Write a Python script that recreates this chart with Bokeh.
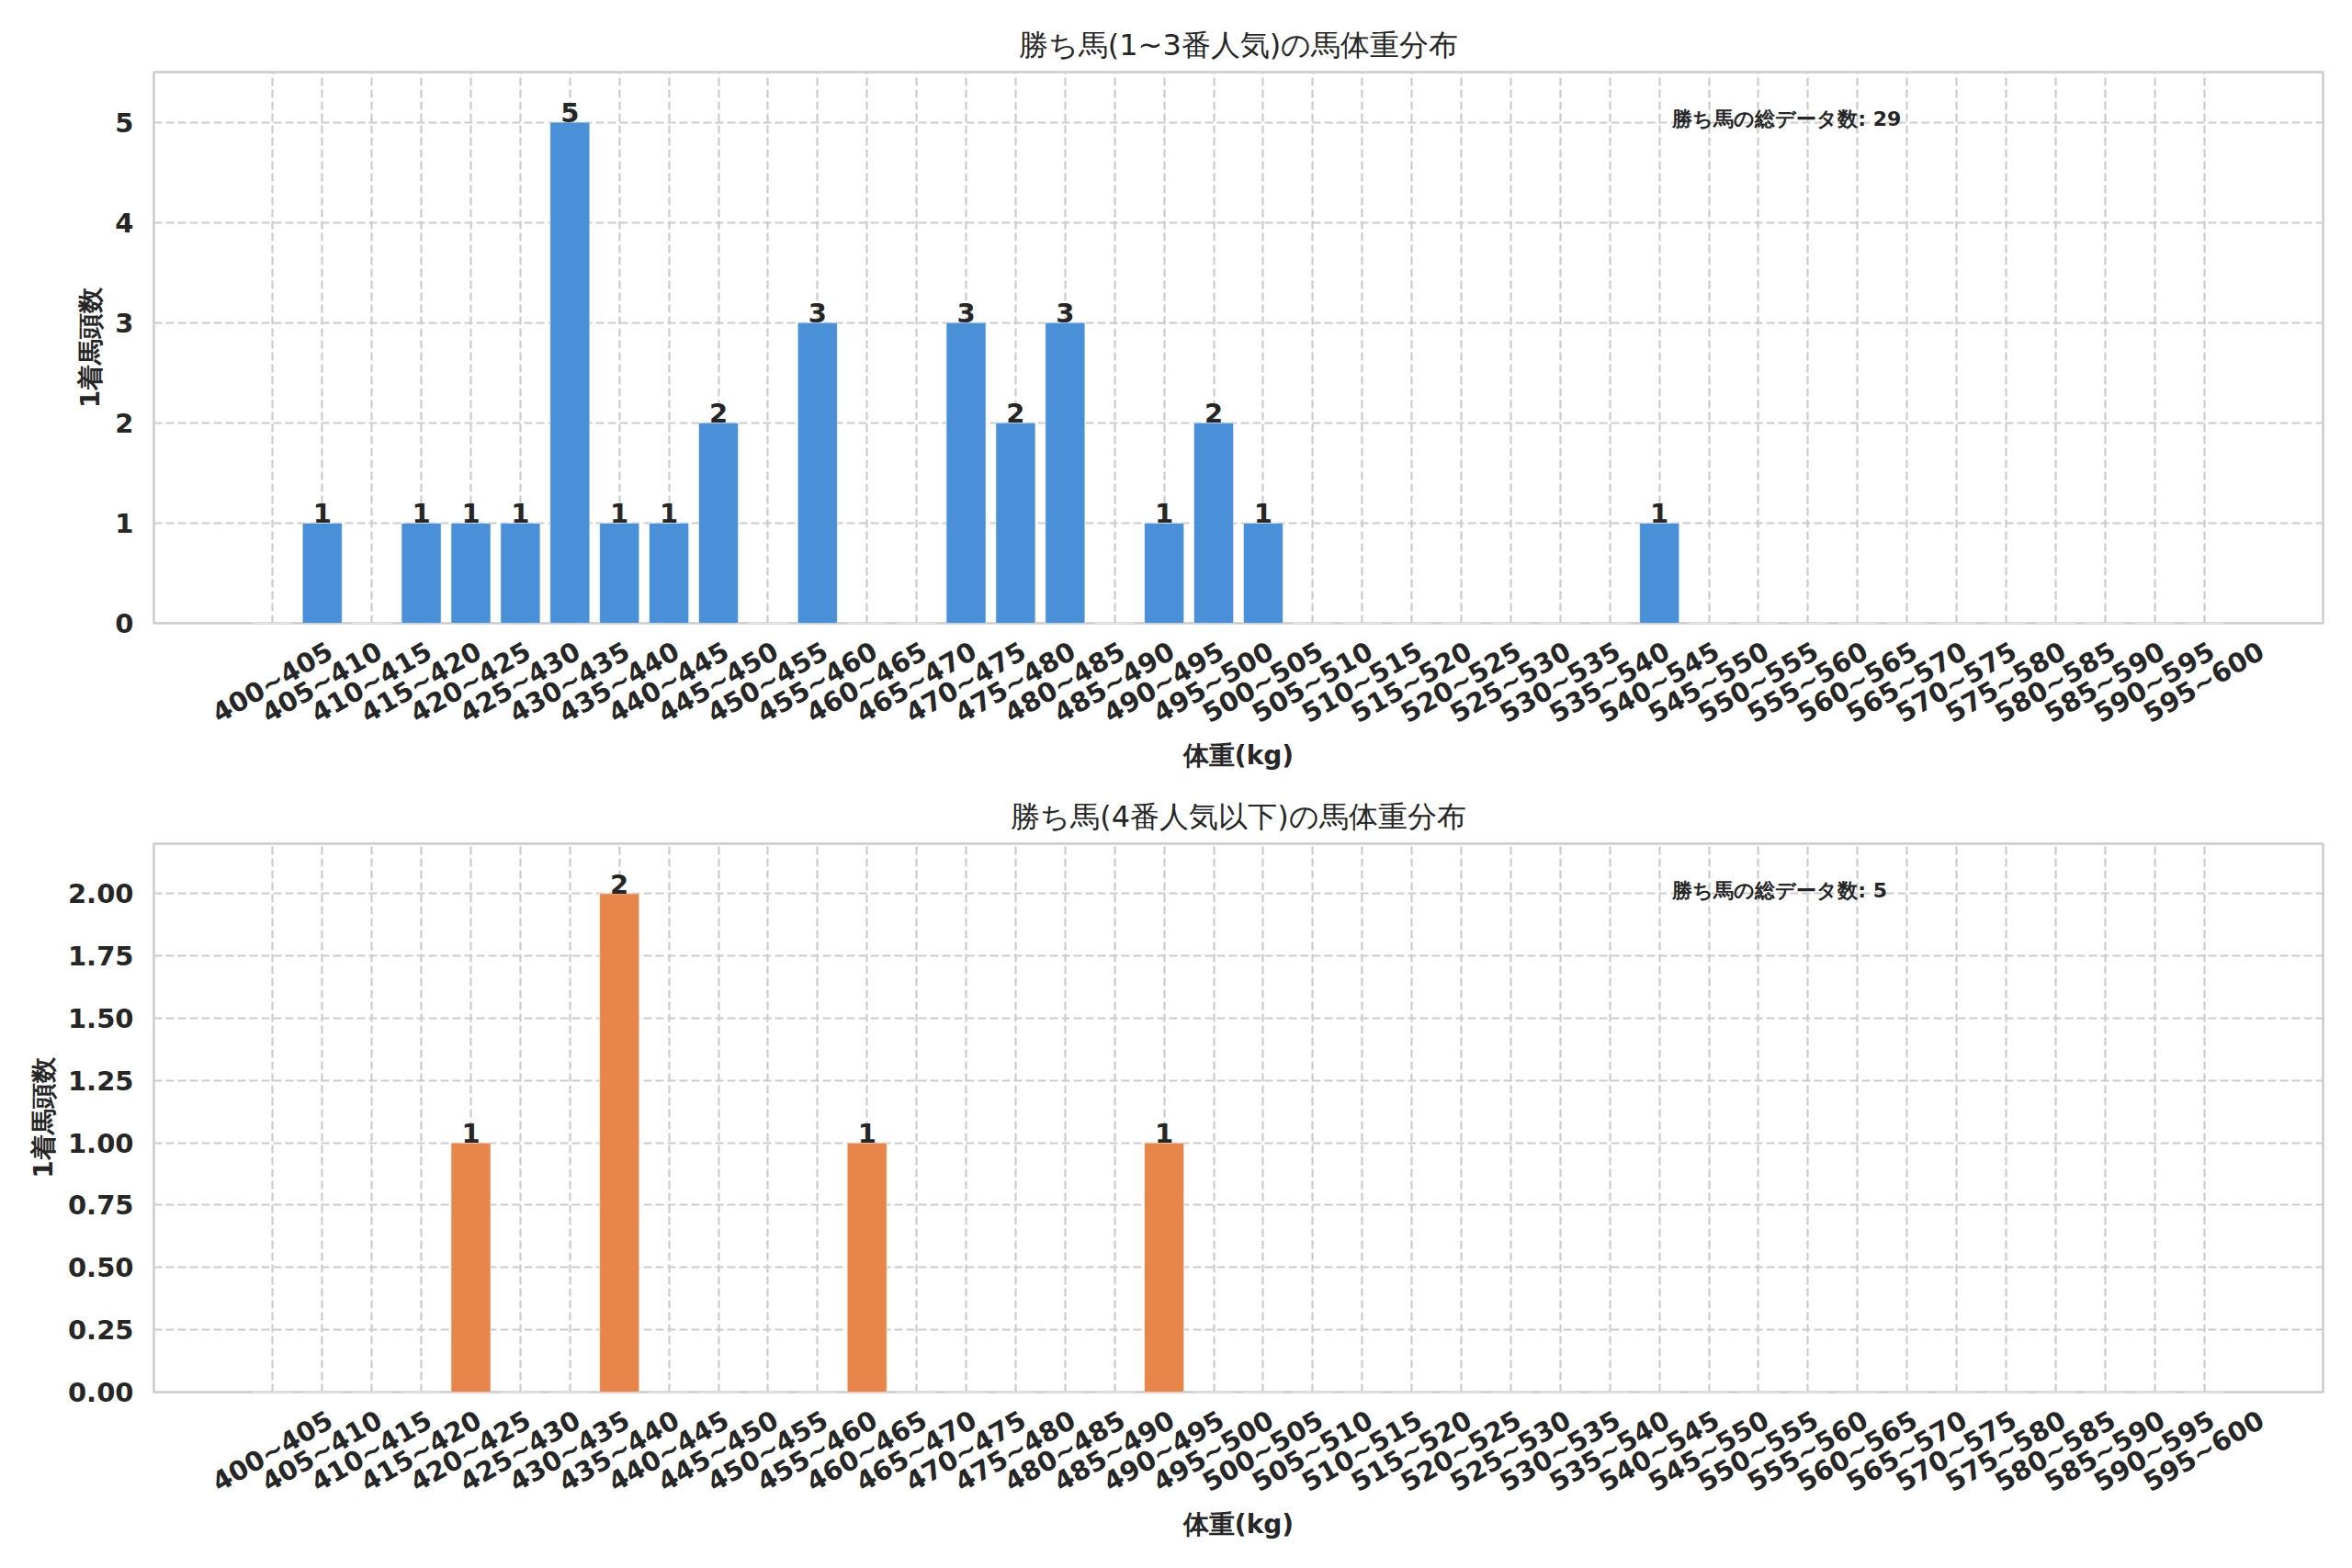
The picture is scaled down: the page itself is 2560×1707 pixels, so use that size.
import math
from bokeh.plotting import figure
from bokeh.models import (Range1d, LinearAxis, FixedTicker, SingleIntervalTicker,
                          NumeralTickFormatter, ColumnDataSource, Label)
from bokeh.layouts import column
from bokeh.embed import file_html
from bokeh.resources import INLINE
from bokeh.core.properties import value

# ---------------- data ----------------
categories = [
    "400~405", "405~410", "410~415", "415~420", "420~425", "425~430", "430~435", "435~440",
    "440~445", "445~450", "450~455", "455~460", "460~465", "465~470", "470~475", "475~480",
    "480~485", "485~490", "490~495", "495~500", "500~505", "505~510", "510~515", "515~520",
    "520~525", "525~530", "530~535", "535~540", "540~545", "545~550", "550~555", "555~560",
    "560~565", "565~570", "570~575", "575~580", "580~585", "585~590", "590~595", "595~600",
]
counts_top = [0, 1, 0, 1, 1, 1, 5, 1, 1, 2, 0, 3, 0, 0, 3, 2, 3, 0, 1, 2,
              1, 0, 0, 0, 0, 0, 0, 0, 1, 0, 0, 0, 0, 0, 0, 0, 0, 0, 0, 0]
counts_bottom = [0, 0, 0, 0, 1, 0, 0, 2, 0, 0, 0, 0, 1, 0, 0, 0, 0, 0, 1, 0,
                 0, 0, 0, 0, 0, 0, 0, 0, 0, 0, 0, 0, 0, 0, 0, 0, 0, 0, 0, 0]
title_top = "勝ち馬(1~3番人気)の馬体重分布"
title_bottom = "勝ち馬(4番人気以下)の馬体重分布"
x_label = "体重(kg)"
y_label = "1着馬頭数"
total_label = "勝ち馬の総データ数"

# ---------------- style ----------------
FONT = "DejaVu Sans"
TXT = "#262626"
GRID = "#cccccc"
BLUE = "#4a90d9"
ORANGE = "#e8854a"
FRAME_W = 2361
PAD = 2.4          # category units of empty space on each side
SHIFT = 1.16       # shift of rotated labels so that their centre sits on the tick
TICK_FS = "29px"

positions = list(range(len(categories)))


def make_panel(title, counts, color, ymax, interval, fmt, frame_h, b_top, b_bottom):
    lo, hi = positions[0] - PAD, positions[-1] + PAD
    p = figure(frame_width=FRAME_W, frame_height=frame_h,
               x_range=Range1d(lo, hi), y_range=Range1d(0, ymax),
               x_axis_location=None, output_backend="svg", toolbar_location=None,
               min_border_left=167, min_border_right=24,
               min_border_top=b_top, min_border_bottom=b_bottom,
               background_fill_color="white", border_fill_color="white")
    p.title.text = title
    p.title.align = "center"
    p.title.text_font = FONT
    p.title.text_font_size = "32px"
    p.title.text_font_style = "normal"
    p.title.text_color = TXT
    p.title.standoff = 21

    p.outline_line_color = GRID
    p.outline_line_width = 2.5

    # bars
    p.vbar(x=positions, top=counts, width=0.8, fill_color=color,
           line_color="white", line_width=1, line_alpha=0.6)

    # value labels
    nz = [i for i, c in enumerate(counts) if c > 0]
    src = ColumnDataSource(dict(x=[positions[i] for i in nz],
                                y=[counts[i] for i in nz],
                                t=[str(counts[i]) for i in nz]))
    p.text(x="x", y="y", text="t", source=src, text_align="center",
           text_baseline="bottom", y_offset=0, text_font=value(FONT), text_font_style="bold",
           text_font_size="29px", text_color=TXT)

    # y axis
    ya = p.yaxis[0]
    ya.ticker = SingleIntervalTicker(interval=interval)
    ya.formatter = NumeralTickFormatter(format=fmt)
    ya.axis_label = y_label
    ya.axis_label_text_font = FONT
    ya.axis_label_text_font_size = "28px"
    ya.axis_label_text_font_style = "bold"
    ya.axis_label_text_color = TXT
    ya.axis_label_standoff = 7
    ya.major_label_text_font = FONT
    ya.major_label_text_font_size = TICK_FS
    ya.major_label_text_font_style = "bold"
    ya.major_label_text_color = TXT
    ya.major_label_standoff = 16
    ya.axis_line_color = None
    ya.major_tick_line_color = None
    ya.minor_tick_line_color = None

    # grids
    p.ygrid.grid_line_color = GRID
    p.ygrid.grid_line_width = 2.2
    p.ygrid.grid_line_dash = "9 4"
    p.xgrid.ticker = FixedTicker(ticks=positions)
    p.xgrid.grid_line_color = GRID
    p.xgrid.grid_line_width = 2.2
    p.xgrid.grid_line_dash = "9 4"

    # x axis (label axis shifted so that rotated labels are centred on ticks)
    p.extra_x_ranges = {"lbl": Range1d(lo - SHIFT, hi - SHIFT)}
    xa = LinearAxis(x_range_name="lbl", ticker=FixedTicker(ticks=positions),
                    major_label_overrides={i: c for i, c in zip(positions, categories)})
    xa.major_label_orientation = math.pi / 6
    xa.axis_label = x_label
    xa.axis_label_text_font = FONT
    xa.axis_label_text_font_size = "28px"
    xa.axis_label_text_font_style = "bold"
    xa.axis_label_text_color = TXT
    xa.axis_label_standoff = -6
    xa.major_label_text_font = FONT
    xa.major_label_text_font_size = TICK_FS
    xa.major_label_text_font_style = "bold"
    xa.major_label_text_color = TXT
    xa.major_label_standoff = 22
    xa.axis_line_color = None
    xa.major_tick_line_color = None
    xa.minor_tick_line_color = None
    p.add_layout(xa, "below")

    # total annotation
    p.add_layout(Label(x=0.70 * FRAME_W, y=0.915 * frame_h, x_units="screen", y_units="screen",
                       text=f"{total_label}: {sum(counts)}", text_font=FONT,
                       text_font_size="22px", text_font_style="bold", text_color=TXT,
                       text_baseline="middle", text_align="left"))
    return p


p1 = make_panel(title_top, counts_top, BLUE, 5.5, 1, "0", 600, 78, 175)
p2 = make_panel(title_bottom, counts_bottom, ORANGE, 2.2, 0.25, "0.00", 597, 65, 184)

layout = column(p1, p2, spacing=0)
open("out.html", "w").write(file_html(layout, INLINE))
